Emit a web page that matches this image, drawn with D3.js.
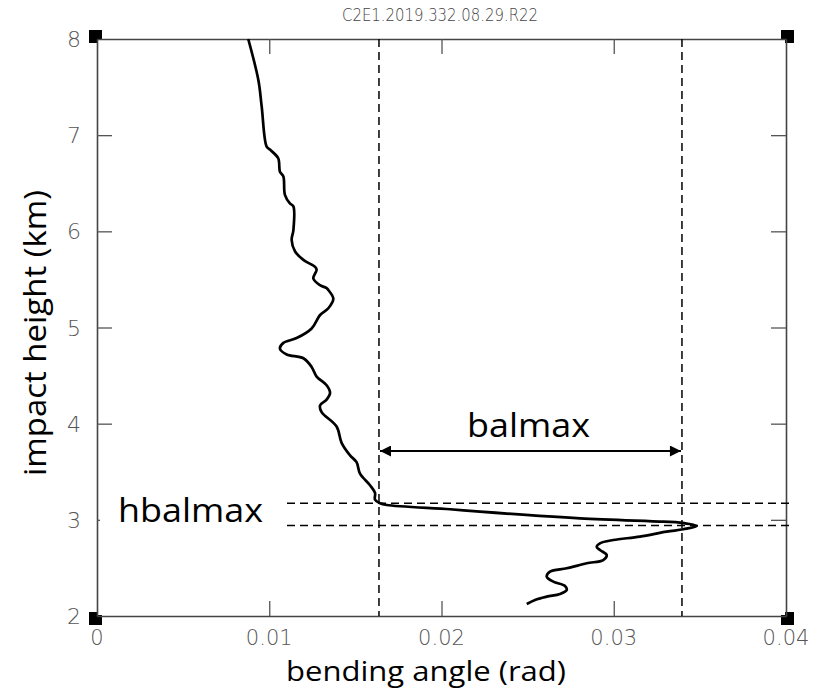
<!DOCTYPE html>
<html>
<head>
<meta charset="utf-8">
<script src="https://cdn.jsdelivr.net/npm/d3@7"></script>
<style>
  html, body { margin: 0; padding: 0; background: #fff; }
  svg { display: block; }
</style>
</head>
<body>
<div id="chart"></div>
<script>
// Bending angle profile (rad) against impact height (km)
const bendingAngle = [
  0.00878, 0.00937, 0.00956, 0.00985, 0.01004, 0.01052, 0.01062, 0.01082, 0.01091, 0.01120,
  0.01140, 0.01140, 0.01130, 0.01150, 0.01200, 0.01266, 0.01275, 0.01256, 0.01295, 0.01333,
  0.01343, 0.01372, 0.01343, 0.01295, 0.01246, 0.01159, 0.01082, 0.01062, 0.01101, 0.01198,
  0.01246, 0.01275, 0.01333, 0.01353, 0.01333, 0.01295, 0.01304, 0.01391, 0.01420, 0.01469,
  0.01507, 0.01527, 0.01585, 0.01614, 0.01614, 0.01643, 0.01682, 0.02049, 0.02223, 0.02804,
  0.03288, 0.03385, 0.03482, 0.03404, 0.03307, 0.03152, 0.02997, 0.02920, 0.02901, 0.02920,
  0.02959, 0.02939, 0.02843, 0.02727, 0.02630, 0.02611, 0.02649, 0.02717, 0.02727, 0.02688,
  0.02611, 0.02543, 0.02495
];
const impactHeight = [
  8.000, 7.570, 7.300, 6.880, 6.850, 6.760, 6.620, 6.570, 6.380, 6.290,
  6.260, 6.010, 5.910, 5.790, 5.700, 5.630, 5.600, 5.510, 5.440, 5.410,
  5.390, 5.300, 5.200, 5.130, 4.990, 4.890, 4.840, 4.780, 4.720, 4.680,
  4.590, 4.490, 4.400, 4.320, 4.250, 4.190, 4.120, 3.970, 3.800, 3.670,
  3.600, 3.480, 3.360, 3.280, 3.210, 3.172, 3.154, 3.110, 3.085, 3.016,
  2.981, 2.971, 2.936, 2.902, 2.877, 2.825, 2.790, 2.756, 2.721, 2.686,
  2.634, 2.582, 2.548, 2.496, 2.461, 2.409, 2.357, 2.312, 2.270, 2.229,
  2.201, 2.167, 2.125
];

// Axis ticks
const xTicks = [0, 0.01, 0.02, 0.03, 0.04];
const xTickLabels = ["0", "0.01", "0.02", "0.03", "0.04"];
const yTicks = [2, 3, 4, 5, 6, 7, 8];

// Annotation values: the range of the jump and the heights that bound it
const balmaxBounds = [0.01637, 0.03396];
const hbalmaxBounds = [3.172, 2.94];

const title = "C2E1.2019.332.08.29.R22";

const W = 825, H = 693;
const plotLeft = 97, plotRight = 786, plotTop = 39, plotBottom = 616;

const svg = d3.select("#chart").append("svg")
  .attr("width", W).attr("height", H)
  .style("background", "#fff");

const x = d3.scaleLinear().domain([0, 0.04]).range([plotLeft, plotRight]);
const y = d3.scaleLinear().domain([2, 8]).range([plotBottom, plotTop]);

const axisColor = "#444";
const tickFont = "'DejaVu Sans', sans-serif";
const labelFont = "'Open Sans', sans-serif";

// Title
svg.append("text")
  .attr("x", 440).attr("y", 21)
  .attr("text-anchor", "middle")
  .attr("font-family", tickFont)
  .attr("font-size", 17)
  .attr("font-weight", 200)
  .attr("fill", "#444")
  .attr("textLength", 196)
  .attr("lengthAdjust", "spacingAndGlyphs")
  .text(title);

// Corner markers (drawn under the frame lines)
const corners = [[0, 2], [0.04, 2], [0, 8], [0.04, 8]];
svg.append("g").selectAll("g").data(corners).join("g")
  .attr("transform", d => `translate(${x(d[0])},${y(d[1])})`)
  .each(function (d) {
    const g = d3.select(this);
    const sx = d[0] === 0 ? 1 : -1;   // direction pointing into the plot
    const sy = d[1] === 8 ? 1 : -1;
    g.append("rect")
      .attr("x", sx > 0 ? -8 : -5).attr("y", sy > 0 ? -9 : -4)
      .attr("width", 13).attr("height", 13).attr("fill", "#000");
    g.append("rect")
      .attr("x", sx > 0 ? 1 : -5).attr("y", sy > 0 ? 1 : -4)
      .attr("width", 4).attr("height", 3).attr("fill", "#fff");
  });

// Frame with inward ticks on all four sides
const inner = [0.01, 0.02, 0.03];
const innerY = [3, 4, 5, 6, 7];

function styleAxis(g) {
  g.select(".domain").attr("stroke", axisColor).attr("stroke-width", 1.6);
  g.selectAll(".tick line").attr("stroke", "#555").attr("stroke-width", 1.3);
  g.selectAll(".tick text").remove();
}

svg.append("g").attr("transform", `translate(0,${plotBottom})`)
  .call(d3.axisTop(x).tickValues(inner).tickSize(15).tickSizeOuter(0))
  .call(styleAxis);
svg.append("g").attr("transform", `translate(0,${plotTop})`)
  .call(d3.axisBottom(x).tickValues(inner).tickSize(15).tickSizeOuter(0))
  .call(styleAxis);
svg.append("g").attr("transform", `translate(${plotLeft},0)`)
  .call(d3.axisRight(y).tickValues(innerY).tickSize(15).tickSizeOuter(0))
  .call(styleAxis);
svg.append("g").attr("transform", `translate(${plotRight},0)`)
  .call(d3.axisLeft(y).tickValues(innerY).tickSize(15).tickSizeOuter(0))
  .call(styleAxis);

// Tick labels
svg.append("g").selectAll("text").data(xTicks).join("text")
  .attr("x", d => x(d)).attr("y", 645)
  .attr("text-anchor", "middle")
  .attr("font-family", tickFont).attr("font-size", 21).attr("font-weight", 200)
  .attr("fill", "#555")
  .text((d, i) => xTickLabels[i]);

svg.append("g").selectAll("text").data(yTicks).join("text")
  .attr("x", 81).attr("y", d => y(d) + 8)
  .attr("text-anchor", "end")
  .attr("font-family", tickFont).attr("font-size", 22).attr("font-weight", 200)
  .attr("fill", "#555")
  .text(d => d);

// Dashed guide lines
const dash = "8,5";
svg.append("g").selectAll("line").data(balmaxBounds).join("line")
  .attr("x1", d => x(d)).attr("x2", d => x(d))
  .attr("y1", plotTop).attr("y2", plotBottom)
  .attr("stroke", "#000").attr("stroke-width", 1.5)
  .attr("stroke-dasharray", dash);

svg.append("g").selectAll("line").data(hbalmaxBounds).join("line")
  .attr("x1", 287).attr("x2", 792)
  .attr("y1", d => y(d)).attr("y2", d => y(d))
  .attr("stroke", "#000").attr("stroke-width", 1.5)
  .attr("stroke-dasharray", dash);

// Profile line
const line = d3.line()
  .x((d, i) => x(bendingAngle[i]))
  .y((d, i) => y(impactHeight[i]))
  .curve(d3.curveCatmullRom.alpha(0.5));

svg.append("path")
  .datum(bendingAngle)
  .attr("d", line)
  .attr("fill", "none")
  .attr("stroke", "#000")
  .attr("stroke-width", 2.7)
  .attr("stroke-linejoin", "round");

// Double-headed arrow spanning balmax
const defs = svg.append("defs");
defs.append("marker")
  .attr("id", "head")
  .attr("viewBox", "0 0 10 10")
  .attr("refX", 10).attr("refY", 5)
  .attr("markerWidth", 5.5).attr("markerHeight", 5)
  .attr("markerUnits", "strokeWidth")
  .attr("orient", "auto-start-reverse")
  .append("path").attr("d", "M0,0 L10,5 L0,10 z").attr("fill", "#000");

const arrowY = 451;
svg.append("line")
  .attr("x1", x(balmaxBounds[0]) + 1).attr("x2", x(balmaxBounds[1]) - 1)
  .attr("y1", arrowY).attr("y2", arrowY)
  .attr("stroke", "#000").attr("stroke-width", 2.2)
  .attr("marker-start", "url(#head)")
  .attr("marker-end", "url(#head)");

svg.append("text")
  .attr("x", 467).attr("y", 437)
  .attr("font-family", labelFont).attr("font-size", 33)
  .attr("textLength", 123).attr("lengthAdjust", "spacingAndGlyphs")
  .attr("fill", "#000")
  .text("balmax");

// hbalmax label on a white patch
svg.append("rect")
  .attr("x", 100).attr("y", 494).attr("width", 170).attr("height", 36)
  .attr("fill", "#fff");
svg.append("text")
  .attr("x", 118).attr("y", 522)
  .attr("font-family", labelFont).attr("font-size", 33)
  .attr("textLength", 145).attr("lengthAdjust", "spacingAndGlyphs")
  .attr("fill", "#000")
  .text("hbalmax");

// Axis titles
svg.append("text")
  .attr("x", 426).attr("y", 681)
  .attr("text-anchor", "middle")
  .attr("font-family", labelFont).attr("font-size", 28)
  .attr("textLength", 280).attr("lengthAdjust", "spacingAndGlyphs")
  .attr("fill", "#000")
  .text("bending angle (rad)");

svg.append("text")
  .attr("transform", "translate(46,333) rotate(-90)")
  .attr("text-anchor", "middle")
  .attr("font-family", labelFont).attr("font-size", 31)
  .attr("textLength", 286).attr("lengthAdjust", "spacingAndGlyphs")
  .attr("fill", "#000")
  .text("impact height (km)");
</script>
</body>
</html>
